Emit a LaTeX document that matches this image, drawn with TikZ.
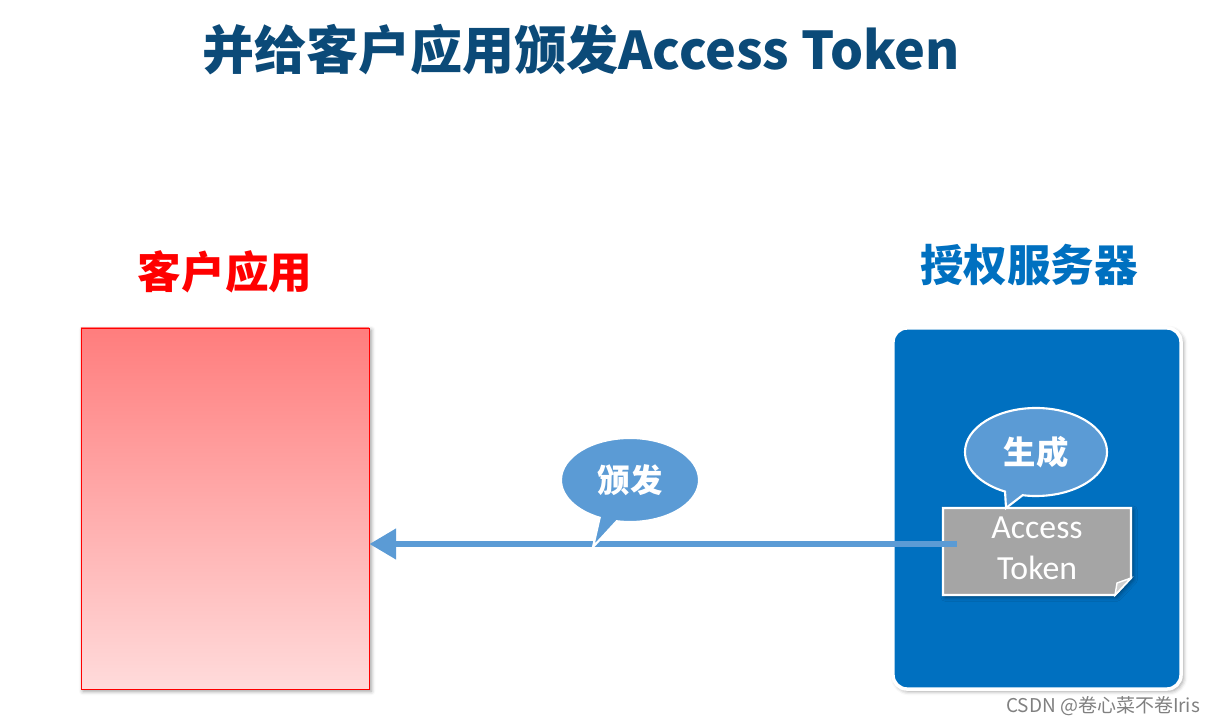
\documentclass[tikz,border=0pt]{standalone}
\usepackage{fontspec}
\setmainfont{Carlito}
\newfontfamily\cjkfont{Noto Sans CJK SC}
\usetikzlibrary{shapes.callouts,arrows.meta,shadows.blur}

\definecolor{titleblue}{HTML}{0B4A78}
\definecolor{serverblue}{HTML}{0070C0}
\definecolor{calloutblue}{HTML}{5B9BD5}
\definecolor{tokengray}{HTML}{A5A5A5}
\definecolor{foldgray}{HTML}{CFCFCF}
\definecolor{clienttop}{HTML}{FF7D7D}
\definecolor{clientbottom}{HTML}{FFDBDB}

\tikzset{
    bubble/.style={ellipse callout, fill=calloutblue, draw=white, line width=1.5pt,
        text=white, inner sep=0pt, font=\cjkfont\bfseries\fontsize{23}{28}\selectfont},
    heading/.style={font=\cjkfont\bfseries\fontsize{31}{36}\selectfont},
    boxshadow/.style={blur shadow={shadow xshift=1.5pt, shadow yshift=-1.5pt,
        shadow blur radius=3pt, shadow opacity=40}}
}

\begin{document}
\begin{tikzpicture}[x=0.025cm,y=0.025cm]
                \useasboundingbox (0,0) rectangle (1220,725);
                \node (title) [font=\cjkfont\bfseries\fontsize{37}{42}\selectfont, text=titleblue]
                    at (581,675) {并给客户应用颁发Access Token};
                \node (clientlabel) [heading, text=red] at (225,453) {客户应用};
                \node (serverlabel) [heading, text=serverblue] at (1029,460) {授权服务器};
                % boxes
                \node (client) [draw=red, line width=0.6pt, top color=clienttop, bottom color=clientbottom,
                    minimum width=7.2cm, minimum height=9.025cm, boxshadow] at (225,216.5) {};
                \node (server) [draw=white, line width=2.5pt, fill=serverblue, rounded corners=10pt,
                    minimum width=7.2cm, minimum height=9.025cm, boxshadow] at (1037,216.5) {};
                % token note
                \draw[fill=tokengray, draw=white, line width=1.5pt, boxshadow]
                    (943,217) -- (1131,217) -- (1131,147) -- (1115,130) -- (943,130) -- cycle;
                \draw[fill=foldgray, draw=white, line width=1pt]
                    (1131,147) -- (1117,142) -- (1115,130) -- cycle;
                \node (token) [minimum width=4.7cm, minimum height=2.175cm, inner sep=0pt, align=center,
                    text=white, font=\fontsize{24}{29}\selectfont] at (1037,177) {Access\\Token};
                % issue arrow
                \coordinate (tail) at ([xshift=0.35cm,yshift=0.1cm]token.west);
                \draw[-{Triangle[length=19pt,width=21pt]}, calloutblue, line width=4.3pt]
                    (tail) -- (tail -| client.east);
                % callouts
                \node (issue) [bubble, minimum width=3.45cm, minimum height=2.1cm,
                    callout absolute pointer={(593,178)}] at (630,245) {颁发};
                \node (create) [bubble, minimum width=3.55cm, minimum height=2.2cm,
                    callout absolute pointer={(1006,217)}] at (1036,273) {生成};
                \node (mark) [anchor=east, text=gray, font=\cjkfont\fontsize{13.5}{15}\selectfont]
                    at (1205,19) {CSDN @卷心菜不卷Iris};
            \end{tikzpicture}
\end{document}
